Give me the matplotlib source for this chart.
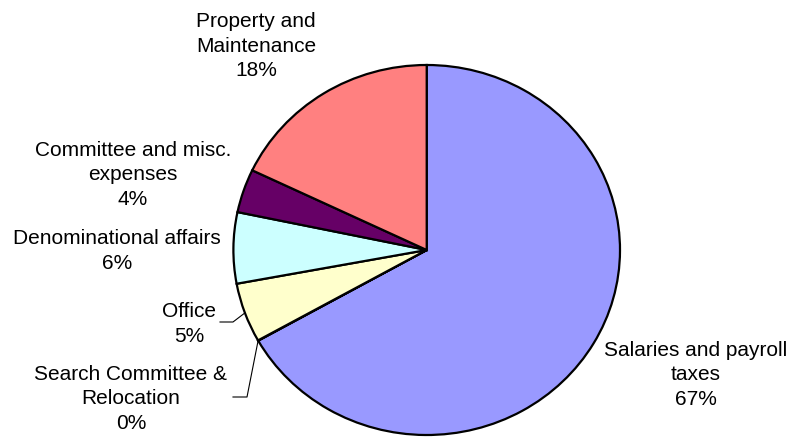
import numpy as np
import matplotlib
matplotlib.use('Agg')
from matplotlib import pyplot as plt

plt.rcParams['font.family'] = ['Liberation Sans', 'DejaVu Sans']

# Donnees du graphique
categories = ['Salaries and payroll\ntaxes', 'Search Committee &\nRelocation', 'Office',
              'Denominational affairs', 'Committee and misc.\nexpenses', 'Property and\nMaintenance']
values = [66.8, 0.03, 5.2, 6.2, 3.8, 17.9]
colors = ['#9999FF', '#993366', '#FFFFCC', '#CCFFFF', '#660066', '#FF8080']

# positions des etiquettes (centre, en pixels depuis le haut gauche)
label_pos = [(696, 375), (131, 399), (189, 324), (117, 251), (133, 175), (256, 46)]

W, H = 794, 439
fig = plt.figure(figsize=(W / 100, H / 100), dpi=100)
ax = fig.add_axes([0, 0, 1, 1])

wedges, _ = ax.pie(values, colors=colors, startangle=90, counterclock=False,
                   wedgeprops=dict(edgecolor='black', linewidth=1.6))

# pie legerement elliptique comme dans Excel
cx, cy, rx, ry = 426.7, 251, 193.3, 185
ax.set_aspect('auto')
ax.set_xlim(-cx / rx, (W - cx) / rx)
ax.set_ylim(-(H - cy) / ry, cy / ry)
ax.axis('off')

pct = np.array(values) / np.sum(values) * 100
for cat, p, (px, py) in zip(categories, pct, label_pos):
    fig.text(px / W, 1 - py / H, '%s\n%d%%' % (cat, round(p)), ha='center', va='center',
             fontsize=15, linespacing=1.37, color='black')

def pix2data(px, py):
    return ax.transData.inverted().transform((px, H - py))

# lignes de rappel pour Office et Search Committee
def edge_point(w, frac):
    a = np.deg2rad(w.theta1 + (w.theta2 - w.theta1) * frac)
    return np.cos(a), np.sin(a)

ex, ey = edge_point(wedges[2], 0.5)
p1 = pix2data(220, 323)
p2 = pix2data(233, 323)
ax.plot([p1[0], p2[0], ex], [p1[1], p2[1], ey], color='black', lw=0.8)

ex, ey = edge_point(wedges[1], 0.5)
p1 = pix2data(233, 398)
p2 = pix2data(247, 398)
ax.plot([p1[0], p2[0], ex], [p1[1], p2[1], ey], color='black', lw=0.8)

fig.savefig('out.png', dpi=100)
